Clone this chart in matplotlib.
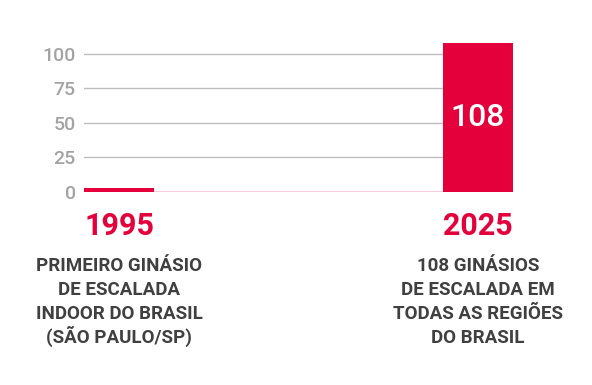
import matplotlib.pyplot as plt

# Data
years = ["1995", "2025"]
gyms = [3, 108]
descriptions = [
    ["PRIMEIRO GINÁSIO", "DE ESCALADA", "INDOOR DO BRASIL", "(SÃO PAULO/SP)"],
    ["108 GINÁSIOS", "DE ESCALADA EM", "TODAS AS REGIÕES", "DO BRASIL"],
]
y_ticks = [0, 25, 50, 75, 100]

red = "#e4003b"
plt.rcParams["font.family"] = ["Roboto", "DejaVu Sans"]

fig = plt.figure(figsize=(5.92, 3.85), dpi=100)
ax = fig.add_axes([84 / 592, 1 - 192 / 385, 429 / 592, 150 / 385])

w = 0.195
pos = list(range(len(years)))
ax.bar(pos, gyms, width=w, color=red, zorder=3)
ax.set_xlim(-w / 2, pos[-1] + w / 2)
ax.set_ylim(0, 108.5)

# gridlines
for t in y_ticks[1:]:
    ax.axhline(t, color="#bdbdbd", linewidth=1, zorder=1)
ax.axhline(0, color=red, linewidth=1, zorder=2)

ax.set_yticks(y_ticks)
ax.set_yticklabels([str(t) for t in y_ticks], fontsize=14, color="#a3a3a3",
                   fontweight="medium")
ax.tick_params(axis="y", length=0, pad=6)
ax.set_xticks([])
for s in ax.spines.values():
    s.set_visible(False)

# value label inside last bar
ax.text(pos[-1], gyms[-1] / 2, str(gyms[-1]), color="white", fontsize=23,
        fontweight="medium", ha="center", va="center", zorder=4)

# year and description below each bar
for p, yr, desc in zip(pos, years, descriptions):
    ax.annotate(yr, xy=(p, 0), xytext=(0, -31), textcoords="offset points",
                ha="center", va="baseline", fontsize=22, fontweight="bold",
                color=red)
    for i, line in enumerate(desc):
        ax.annotate(line, xy=(p, 0), xytext=(0, -57 - 17.3 * i),
                    textcoords="offset points", ha="center", va="baseline",
                    fontsize=13.5, fontweight="bold", color="#404040")

fig.savefig("out.png", dpi=100)
plt.close()
